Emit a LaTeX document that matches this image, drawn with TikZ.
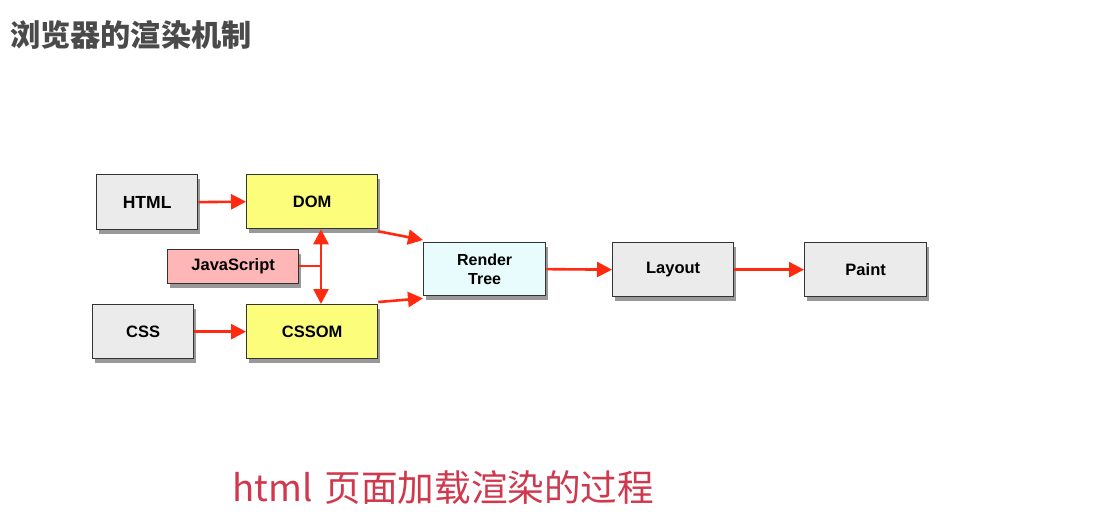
\documentclass[tikz,border=0pt]{standalone}
\usepackage{fontspec}
\setmainfont{Liberation Sans}
\newfontfamily\cjk{Noto Sans CJK SC}
\usetikzlibrary{arrows.meta,shadows}
\definecolor{boxgray}{HTML}{EBEBEB}
\definecolor{boxyellow}{HTML}{FDFD7C}
\definecolor{boxpink}{HTML}{FFB6B6}
\definecolor{boxcyan}{HTML}{E8FCFD}
\definecolor{arrowred}{HTML}{FF2A10}
\definecolor{titlegray}{HTML}{4A4A4A}
\definecolor{capred}{HTML}{D0384D}
\definecolor{edge}{HTML}{333333}
\tikzset{
  box/.style={draw=edge, line width=1.3pt, inner sep=0pt, anchor=north west,
    font=\fontsize{16.5}{19}\selectfont\bfseries, text=black, align=center,
    drop shadow={shadow xshift=2pt, shadow yshift=-4pt, opacity=0.4, fill=black}},
  conn/.style={draw=arrowred, line width=2.6pt, -{Triangle[length=15pt,width=15pt]}},
  plainconn/.style={draw=arrowred, line width=2.6pt},
}
\begin{document}
\begin{tikzpicture}[x=1pt,y=-1pt]
\useasboundingbox (0,0) rectangle (1109,519);
\fill[white] (0,0) rectangle (1109,519);
\node[anchor=west, inner sep=0pt, text=titlegray, font=\cjk\fontsize{30.2}{33}\selectfont\bfseries] (title) at (10,35) {浏览器的渲染机制};

\node[box, fill=boxgray, minimum width=101pt, minimum height=55pt, font=\fontsize{17.5}{19}\selectfont\bfseries] (html) at (96,174) {HTML};
\node[box, fill=boxyellow, minimum width=131pt, minimum height=54pt] (dom) at (246,174) {DOM};
\node[box, fill=boxpink, minimum width=131pt, minimum height=34pt] (js) at (167,249) {JavaScript};
\node[box, fill=boxgray, minimum width=101pt, minimum height=54pt] (css) at (92,304) {CSS};
\node[box, fill=boxyellow, minimum width=131pt, minimum height=54pt] (cssom) at (246,304) {CSSOM};
\node[box, fill=boxcyan, minimum width=122pt, minimum height=53pt, font=\fontsize{16}{19}\selectfont\bfseries] (render) at (423,242) {Render\\Tree};
\node[box, fill=boxgray, minimum width=121pt, minimum height=54pt] (layout) at (612,242) {Layout};
\node[box, fill=boxgray, minimum width=122pt, minimum height=54pt] (paint) at (804,242) {Paint};

\coordinate (jsj) at (321,266);
\draw[conn] (html.east) -- (dom.west);
\draw[conn] (css.east) -- (cssom.west);
\draw[plainconn] (js.east |- jsj) -- (jsj);
\draw[conn] (jsj) -- (jsj |- dom.south);
\draw[conn] (jsj) -- (jsj |- cssom.north);
\draw[conn] ([yshift=-2pt]dom.south east) -- ([yshift=2pt]render.north west);
\draw[conn] ([yshift=2pt]cssom.north east) -- ([yshift=-2pt]render.south west);
\draw[conn] (render.east) -- (layout.west);
\draw[conn] (layout.east) -- (paint.west);

\node[anchor=west, inner sep=0pt, text=capred, font=\cjk\fontsize{36.6}{40}\selectfont] (caption) at (232,488) {html\hspace{4pt} 页面加载渲染的过程};
\end{tikzpicture}
\end{document}
